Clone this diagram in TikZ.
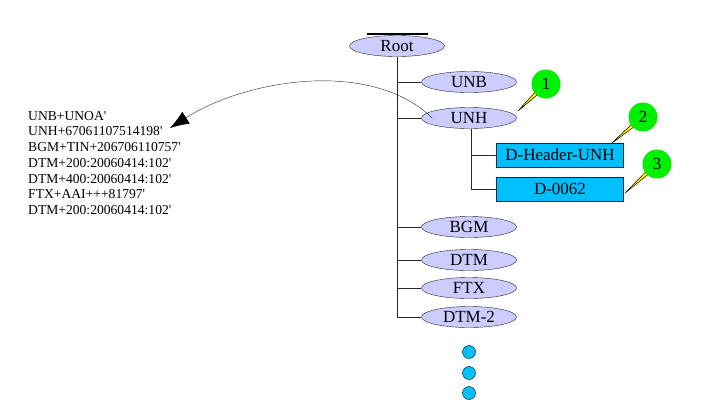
\documentclass[tikz,border=0pt]{standalone}
\usepackage{fontspec}
\setmainfont{Liberation Serif}
\usetikzlibrary{shapes.geometric,arrows.meta,calc}
\definecolor{segfill}{RGB}{204,204,255}
\definecolor{boxfill}{RGB}{0,191,255}
\definecolor{tagfill}{RGB}{0,238,0}
\newcommand{\q}{\textquotesingle}
\begin{document}
\begin{tikzpicture}[x=1pt,y=-1pt,
  seg/.style={ellipse,draw=black!85,fill=segfill,minimum width=95pt,minimum height=21pt,inner sep=0pt,font=\fontsize{17}{18}\selectfont},
  elem/.style={rectangle,draw=black!85,fill=boxfill,minimum width=127pt,minimum height=24pt,inner sep=0pt,font=\fontsize{17}{18}\selectfont},
  tag/.style={circle,fill=tagfill,minimum size=29pt,inner sep=0pt,font=\fontsize{17}{18}\selectfont},
  more/.style={circle,draw=black,fill=boxfill,minimum size=13pt,inner sep=0pt},
  link/.style={black!85,line width=0.8pt}]
  \useasboundingbox (0,0) rectangle (723,416);
  \draw[line width=2pt] (367,34) -- (428,34);
  \node[seg] (root) at (397,46) {Root};
  \node[seg] (unb) at (469,82) {UNB};
  \node[seg] (unh) at (469,118) {UNH};
  \node[elem] (dhead) at (560,155) {D-Header-UNH};
  \node[elem] (d0062) at (560,189) {D-0062};
  \node[seg] (bgm) at (469,227) {BGM};
  \node[seg] (dtm) at (469,260) {DTM};
  \node[seg] (ftx) at (469,288) {FTX};
  \node[seg] (dtmtwo) at (469,317) {DTM-2};
  \draw[link] (root.south) -- (root.south |- dtmtwo.west) -- (dtmtwo.west);
  \foreach \n in {unb,unh,bgm,dtm,ftx}
    \draw[link] (root.south |- \n.west) -- (\n.west);
  \draw[link] ([xshift=2pt]unh.south) -- ([xshift=2pt]unh.south |- d0062.west) -- (d0062.west);
  \draw[link] ([xshift=2pt]unh.south |- dhead.west) -- (dhead.west);
  \node[more] (m1) at (469,352) {};
  \node[more] (m2) at (469,373) {};
  \node[more] (m3) at (469,393) {};
  \coordinate (t1) at (518,111);
  \coordinate (t2) at (612,143);
  \coordinate (t3) at (625,193);
  \coordinate (c1) at (546,84);
  \coordinate (c2) at (643,117);
  \coordinate (c3) at (657,164);
  \foreach \i in {1,2,3}
    \filldraw[fill=yellow,draw=black,line width=0.5pt]
      ($(c\i)!12pt!9:(t\i)$) -- (t\i) -- ($(c\i)!12pt!-9:(t\i)$) -- cycle;
  \node[tag] (n1) at (c1) {1};
  \node[tag] (n2) at (c2) {2};
  \node[tag] (n3) at (c3) {3};
  \node[anchor=north west,inner sep=0pt,align=left,font=\fontsize{13.6}{15.7}\selectfont] (msg) at (28,111)
    {UNB+UNOA\q\\UNH+67061107514198\q\\BGM+TIN+206706110757\q\\DTM+200:20060414:102\q\\DTM+400:20060414:102\q\\FTX+AAI+++81797\q\\DTM+200:20060414:102\q};
  \coordinate (tip) at (170,128);
  \draw[black!85,-{Latex[length=19pt,width=14pt,black]}] ([xshift=11pt]unh.west) .. controls (370,58) and (245,80) .. (tip);
\end{tikzpicture}
\end{document}
